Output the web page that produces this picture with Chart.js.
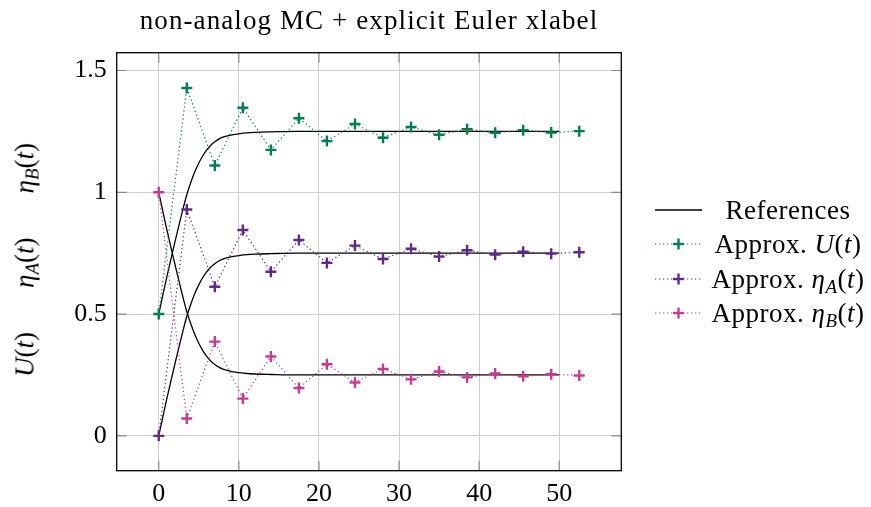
<!DOCTYPE html>
<html>
<head>
<meta charset="utf-8">
<script src="https://cdn.jsdelivr.net/npm/chart.js@4"></script>
<style>
  html, body { margin: 0; padding: 0; background: #fff; }
  #wrap { position: relative; width: 871px; height: 507px; overflow: hidden; font-family: "Liberation Serif", serif; color: #000; }
  #c { position: absolute; left: 0; top: 0; }
  #title { position: absolute; left: 0; top: 7px; width: 738px; text-align: center; font-size: 27px; line-height: 27px; letter-spacing: 1.1px; white-space: nowrap; }
  #ylab { position: absolute; left: 25px; top: 260px; transform: translate(-50%, -50%) rotate(-90deg); font-size: 27px; white-space: nowrap; line-height: 27px; }
  #ylab span + span { margin-left: 44px; }
  .lg { position: absolute; left: 0; width: 871px; height: 34px; }
  .lg svg { position: absolute; left: 653px; top: 0; }
  .lg .tx { position: absolute; left: 700px; width: 176px; text-align: center; font-size: 27px; letter-spacing: 0.5px; line-height: 34px; top: 0; white-space: nowrap; }
  sub { font-size: 0.7em; vertical-align: -0.25em; line-height: 0; }
</style>
</head>
<body>
<div id="wrap">
  <canvas id="c" width="871" height="507"></canvas>
  <div id="title">non-analog MC + explicit Euler xlabel</div>
  <div id="ylab"><span><i>U</i>(<i>t</i>)</span><span><i>η</i><sub><i>A</i></sub>(<i>t</i>)</span><span><i>η</i><sub><i>B</i></sub>(<i>t</i>)</span></div>
  <div id="legend"></div>
</div>
<script>
// ---------- data ----------
const tApprox = [0, 3.5, 7, 10.5, 14, 17.5, 21, 24.5, 28, 31.5, 35, 38.5, 42, 45.5, 49, 52.5];
const approxU = [0.5, 1.428, 1.110, 1.347, 1.174, 1.304, 1.210, 1.280, 1.224, 1.268, 1.236, 1.259, 1.244, 1.255, 1.245, 1.251];
const approxEtaA = [0, 0.929, 0.612, 0.845, 0.674, 0.804, 0.710, 0.781, 0.726, 0.768, 0.736, 0.762, 0.744, 0.756, 0.748, 0.754];
const approxEtaB = [1, 0.071, 0.387, 0.153, 0.326, 0.196, 0.294, 0.219, 0.275, 0.232, 0.264, 0.240, 0.256, 0.245, 0.253, 0.248];

const tRef = [0, 1, 2, 3, 3.5, 4, 4.5, 5, 5.5, 6, 6.5, 7, 7.5, 8, 9, 10, 11, 12, 14, 17, 20, 30, 40, 50];
const refU = [0.5, 0.652, 0.793, 0.928, 0.99, 1.04, 1.084, 1.12, 1.15, 1.174, 1.193, 1.207, 1.218, 1.226, 1.235, 1.24, 1.244, 1.246, 1.248, 1.25, 1.25, 1.25, 1.25, 1.25];
const refEtaA = [0, 0.152, 0.293, 0.428, 0.49, 0.54, 0.584, 0.62, 0.65, 0.674, 0.693, 0.707, 0.718, 0.726, 0.735, 0.74, 0.744, 0.746, 0.748, 0.75, 0.75, 0.75, 0.75, 0.75];
const refEtaB = [1, 0.848, 0.707, 0.572, 0.51, 0.46, 0.416, 0.38, 0.35, 0.326, 0.307, 0.293, 0.282, 0.274, 0.265, 0.26, 0.256, 0.254, 0.252, 0.25, 0.25, 0.25, 0.25, 0.25];

const xTicks = [0, 10, 20, 30, 40, 50];
const yTicks = [0, 0.5, 1, 1.5];
const yTickLabels = ['0', '0.5', '1', '1.5'];

const seriesNames = ['References', 'Approx. U(t)', 'Approx. ηA(t)', 'Approx. ηB(t)'];
const legendHtml = ['References', 'Approx. <i>U</i>(<i>t</i>)', 'Approx. <i>η</i><sub><i>A</i></sub>(<i>t</i>)', 'Approx. <i>η</i><sub><i>B</i></sub>(<i>t</i>)'];
const colors = { ref: '#000000', U: '#007f4f', A: '#5f2a88', B: '#c93a92' };

// ---------- build ----------
const pts = (xs, ys) => xs.map((x, i) => ({ x: x, y: ys[i] }));
const refStyle = { borderColor: colors.ref, borderWidth: 1.3, pointRadius: 0, fill: false, cubicInterpolationMode: 'monotone', order: 2 };
const apStyle = (c) => ({ borderColor: c, backgroundColor: c, borderWidth: 1.2, borderDash: [1.3, 2.7],
  pointStyle: 'cross', pointRadius: 5.5, pointBorderWidth: 2.4, pointBorderColor: c, pointHoverRadius: 5.5, fill: false, tension: 0, order: 1 });

const datasets = [
  Object.assign({ label: seriesNames[0], data: pts(tRef, refU) }, refStyle),
  Object.assign({ label: seriesNames[0] + ' ηA', data: pts(tRef, refEtaA) }, refStyle),
  Object.assign({ label: seriesNames[0] + ' ηB', data: pts(tRef, refEtaB) }, refStyle),
  Object.assign({ label: seriesNames[1], data: pts(tApprox, approxU) }, apStyle(colors.U)),
  Object.assign({ label: seriesNames[2], data: pts(tApprox, approxEtaA) }, apStyle(colors.A)),
  Object.assign({ label: seriesNames[3], data: pts(tApprox, approxEtaB) }, apStyle(colors.B)),
];

const AREA = { left: 116.7, right: 621.3, top: 52.7, bottom: 470.7 };
const tickFont = { family: 'Liberation Serif', size: 26 };

const framePlugin = {
  id: 'frame',
  beforeDatasetsDraw(chart) {
    const { ctx, chartArea: a, scales } = chart;
    ctx.save();
    ctx.strokeStyle = '#8c8c8c';
    ctx.lineWidth = 1.2;
    const L = 10;
    ctx.beginPath();
    xTicks.forEach(v => {
      const x = scales.x.getPixelForValue(v);
      ctx.moveTo(x, a.bottom); ctx.lineTo(x, a.bottom - L);
      ctx.moveTo(x, a.top); ctx.lineTo(x, a.top + L);
    });
    yTicks.forEach(v => {
      const y = scales.y.getPixelForValue(v);
      ctx.moveTo(a.left, y); ctx.lineTo(a.left + L, y);
      ctx.moveTo(a.right, y); ctx.lineTo(a.right - L, y);
    });
    ctx.stroke();
    ctx.restore();
  },
  afterDraw(chart) {
    const { ctx, chartArea: a } = chart;
    ctx.save();
    ctx.strokeStyle = '#000';
    ctx.lineWidth = 1.3;
    ctx.strokeRect(a.left, a.top, a.right - a.left, a.bottom - a.top);
    ctx.restore();
  }
};

new Chart(document.getElementById('c'), {
  type: 'line',
  data: { datasets: datasets },
  options: {
    responsive: false,
    animation: false,
    devicePixelRatio: 1,
    layout: { padding: { left: 0, top: AREA.top, right: 871 - AREA.right, bottom: 0 } },
    plugins: { legend: { display: false }, tooltip: { enabled: false }, title: { display: false } },
    scales: {
      x: {
        type: 'linear', min: -5.25, max: 57.75,
        afterBuildTicks: s => { s.ticks = xTicks.map(v => ({ value: v })); },
        afterFit: s => { s.height = 507 - AREA.bottom; },
        grid: { color: '#cfcfcf', lineWidth: 1, drawTicks: false },
        border: { display: false },
        ticks: { font: tickFont, color: '#000', padding: 8, maxRotation: 0, callback: v => String(v) }
      },
      y: {
        type: 'linear', min: -0.143, max: 1.573,
        afterBuildTicks: s => { s.ticks = yTicks.map(v => ({ value: v })); },
        afterFit: s => { s.width = AREA.left; },
        grid: { color: '#cfcfcf', lineWidth: 1, drawTicks: false },
        border: { display: false },
        ticks: { font: tickFont, color: '#000', padding: 10, callback: v => yTickLabels[yTicks.indexOf(v)] }
      }
    }
  },
  plugins: [framePlugin]
});

// ---------- HTML legend ----------
const rowsY = [210, 243.5, 278.5, 312.5];
const lgColors = [colors.ref, colors.U, colors.A, colors.B];
const lg = document.getElementById('legend');
rowsY.forEach((cy, i) => {
  const row = document.createElement('div');
  row.className = 'lg';
  row.style.top = (cy - 17) + 'px';
  const c = lgColors[i];
  let svg = '<svg width="50" height="34" viewBox="0 0 50 34">';
  if (i === 0) {
    svg += '<line x1="2" y1="17" x2="49" y2="17" stroke="#000" stroke-width="1.3"/>';
  } else {
    svg += `<line x1="2" y1="17" x2="49" y2="17" stroke="${c}" stroke-width="1.2" stroke-dasharray="1.3 2.7"/>`;
    svg += `<line x1="20" y1="17" x2="31" y2="17" stroke="${c}" stroke-width="2.4"/><line x1="25.5" y1="11.5" x2="25.5" y2="22.5" stroke="${c}" stroke-width="2.4"/>`;
  }
  svg += '</svg>';
  row.innerHTML = svg + '<div class="tx">' + legendHtml[i] + '</div>';
  lg.appendChild(row);
});
</script>
</body>
</html>
